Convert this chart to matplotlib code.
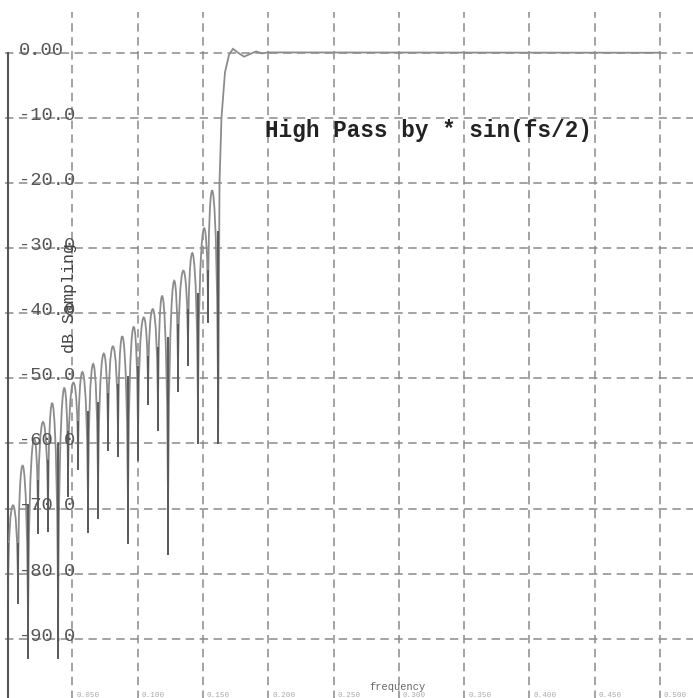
import matplotlib.pyplot as plt
from matplotlib.path import Path
from matplotlib.patches import PathPatch

# Stop band: null frequencies (fraction of fs) and their depth in dB
null_freq = [0.0008, 0.0084, 0.0161, 0.0237, 0.0314, 0.0391, 0.0467, 0.0544,
             0.0620, 0.0697, 0.0773, 0.0850, 0.0926, 0.1003, 0.1080, 0.1156,
             0.1233, 0.1309, 0.1386, 0.1462, 0.1539, 0.1616]
null_db = [-84.0, -84.5, -93.0, -73.7, -73.5, -93.0, -68.0, -64.0,
           -73.6, -71.5, -61.0, -62.0, -75.3, -62.5, -54.0, -58.0,
           -77.0, -52.0, -48.0, -60.0, -41.3, -60.0]
# peak of each side lobe between two nulls
lobe_peak_db = [-69.5, -63.5, -59.8, -56.7, -54.3, -52.3, -50.7, -49.2,
                -47.8, -46.4, -45.1, -43.8, -42.3, -40.8, -39.4, -37.8,
                -35.8, -33.5, -31.0, -27.5, -21.6]

# Transition and pass band
pass_freq = [0.1627, 0.1642, 0.1669, 0.1700, 0.1730, 0.1769, 0.1815,
             0.1861, 0.1907, 0.1953, 0.1998, 0.5000]
pass_db = [-20.0, -10.0, -3.0, -0.3, 0.6, 0.0, -0.6,
           -0.2, 0.2, -0.1, 0.05, 0.0]

y_ticks = [0, -10, -20, -30, -40, -50, -60, -70, -80, -90]
y_labels = ['0.00', '-10.0', '-20.0', '-30.0', '-40.0', '-50.0',
            '-60.0', '-70.0', '-80.0', '-90.0']
x_grid = [0.05, 0.10, 0.15, 0.20, 0.25, 0.30, 0.35, 0.40, 0.45, 0.50]

mono = 'Liberation Mono'

fig = plt.figure(figsize=(6.93, 6.98), dpi=100)
ax = fig.add_axes([0, 0, 1, 1])
ax.set_xlim(-0.0054, 0.5253)
ax.set_ylim(-99.1, 8.1)
ax.axis('off')

# dashed grid
grid_kw = dict(color='#8a8a8a', lw=1.1, linestyles=(0, (5.5, 3.6)), zorder=1)
ax.hlines(y_ticks, -0.0015, 0.5253, **grid_kw)
ax.vlines(x_grid, -100, 6.3, **grid_kw)

# left axis line
ax.plot([0.0004, 0.0004], [0, -100], color='#555555', lw=1.5, zorder=2)

# response curve: each lobe is a rounded arch between two nulls
verts = [(null_freq[0], null_db[0])]
codes = [Path.MOVETO]
for i, peak in enumerate(lobe_peak_db):
    f0, f1 = null_freq[i], null_freq[i + 1]
    n0, n1 = null_db[i], null_db[i + 1]
    c = (8 * peak - n0 - n1) / 6.0
    verts += [(f0, c), (f1, c), (f1, n1)]
    codes += [Path.CURVE4] * 3
for f, d in zip(pass_freq, pass_db):
    verts.append((f, d))
    codes.append(Path.LINETO)
ax.add_patch(PathPatch(Path(verts, codes), fill=False, edgecolor='#8c8c8c',
                       lw=1.3, zorder=3))

# darker spikes at the nulls
for i, f in enumerate(null_freq):
    near = [lobe_peak_db[j] for j in (i - 1, i) if 0 <= j < len(lobe_peak_db)]
    ax.plot([f, f], [null_db[i], min(near) - 6], color='#5a5a5a', lw=1.4,
            zorder=4)

# labels
for v, lab in zip(y_ticks, y_labels):
    ax.text(0.0092, v - 0.3, lab, family=mono, fontsize=13.5, color='#555555',
            ha='left', va='baseline', zorder=5)
for f in x_grid:
    ax.text(f + 0.003, -98.2, '%.3f' % f, family=mono, fontsize=5.5,
            color='#aaaaaa', ha='left', va='top')

ax.text(0.1975, -12.9, 'High Pass by * sin(fs/2)', family=mono,
        fontsize=16.3, fontweight='bold', color='#222222', ha='left',
        va='baseline', zorder=5)
ax.text(0.0482, -37.6, 'dB Sampling', family=mono, fontsize=12,
        color='#444444', rotation=90, ha='center', va='center', zorder=5)
ax.text(0.2986, -97.4, 'frequency', family=mono, fontsize=7.5,
        color='#666666', ha='center', va='center')

plt.savefig('out.png', dpi=100)
